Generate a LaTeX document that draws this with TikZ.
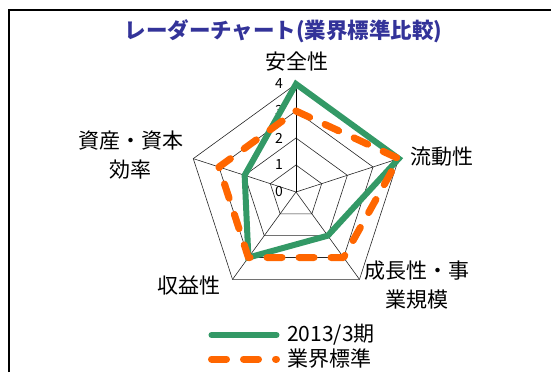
\documentclass[tikz,border=0pt]{standalone}
\usepackage{fontspec}
\setmainfont{Noto Sans CJK JP}
\definecolor{seagreen}{RGB}{51,153,102}
\definecolor{chartorange}{RGB}{255,102,0}
\definecolor{titleblue}{RGB}{51,51,153}
\tikzset{
  ring/.style={draw=black!85,line width=.6pt},
  axislabel/.style={font=\fontsize{21}{29}\selectfont,align=center,inner sep=0pt},
  ticklabel/.style={font=\fontsize{14}{14}\selectfont,inner sep=0pt},
  actual/.style={draw=seagreen,line width=6pt},
  standard/.style={draw=chartorange,line width=7pt,line cap=round,line join=round,dash pattern=on 15pt off 17pt}
}
\begin{document}
\begin{tikzpicture}[x=27pt,y=27pt]
\useasboundingbox (-296pt,-180pt) rectangle (255pt,192pt);
\draw[line width=2pt] (-287.3pt,-180pt) |- (255pt,182.3pt);
\node[font=\bfseries\fontsize{21.5}{21.5}\selectfont,text=titleblue,inner sep=0pt] (title) at (-12.5pt,161pt) {レーダーチャート(業界標準比較)};
\foreach \r in {1,...,4} \draw[ring] (90:\r) -- (18:\r) -- (-54:\r) -- (-126:\r) -- (162:\r) -- cycle;
\foreach \a in {18,-54,-126,162} \draw[ring] (0,0) -- (\a:4);
\draw[line width=.9pt] (0,0) -- (90:4);
\foreach \v in {0,...,4} \node[ticklabel] (tick\v) at ([xshift=-17pt]0,\v) {\v};
\draw[actual] (90:4) -- (18:4) -- (-54:2) -- (-126:3) -- (162:2) -- cycle;
\draw[standard] (90:3) -- (18:4) -- (-54:3) -- (-126:3) -- (162:3) -- cycle;
\node[axislabel] (safety) at (1pt,130pt) {安全性};
\node[axislabel] (liquidity) at (146pt,35pt) {流動性};
\node[axislabel] (growth) at (121pt,-93.5pt) {成長性・事\\業規模};
\node[axislabel] (profit) at (-106.5pt,-93pt) {収益性};
\node[axislabel] (efficiency) at (-165pt,36.5pt) {資産・資本\\効率};
\coordinate (actualA) at (-84.5pt,-143pt);
\coordinate (actualB) at (-19.5pt,-143pt);
\coordinate (standardA) at (-84.5pt,-167pt);
\coordinate (standardB) at (-19.5pt,-167pt);
\draw[actual,line cap=round] (actualA) -- (actualB);
\draw[standard] (standardA) -- (standardB);
\node[axislabel,anchor=west] (actualkey) at (-9pt,-143pt) {2013/3期};
\node[axislabel,anchor=west] (standardkey) at (-9pt,-167pt) {業界標準};
\end{tikzpicture}
\end{document}
